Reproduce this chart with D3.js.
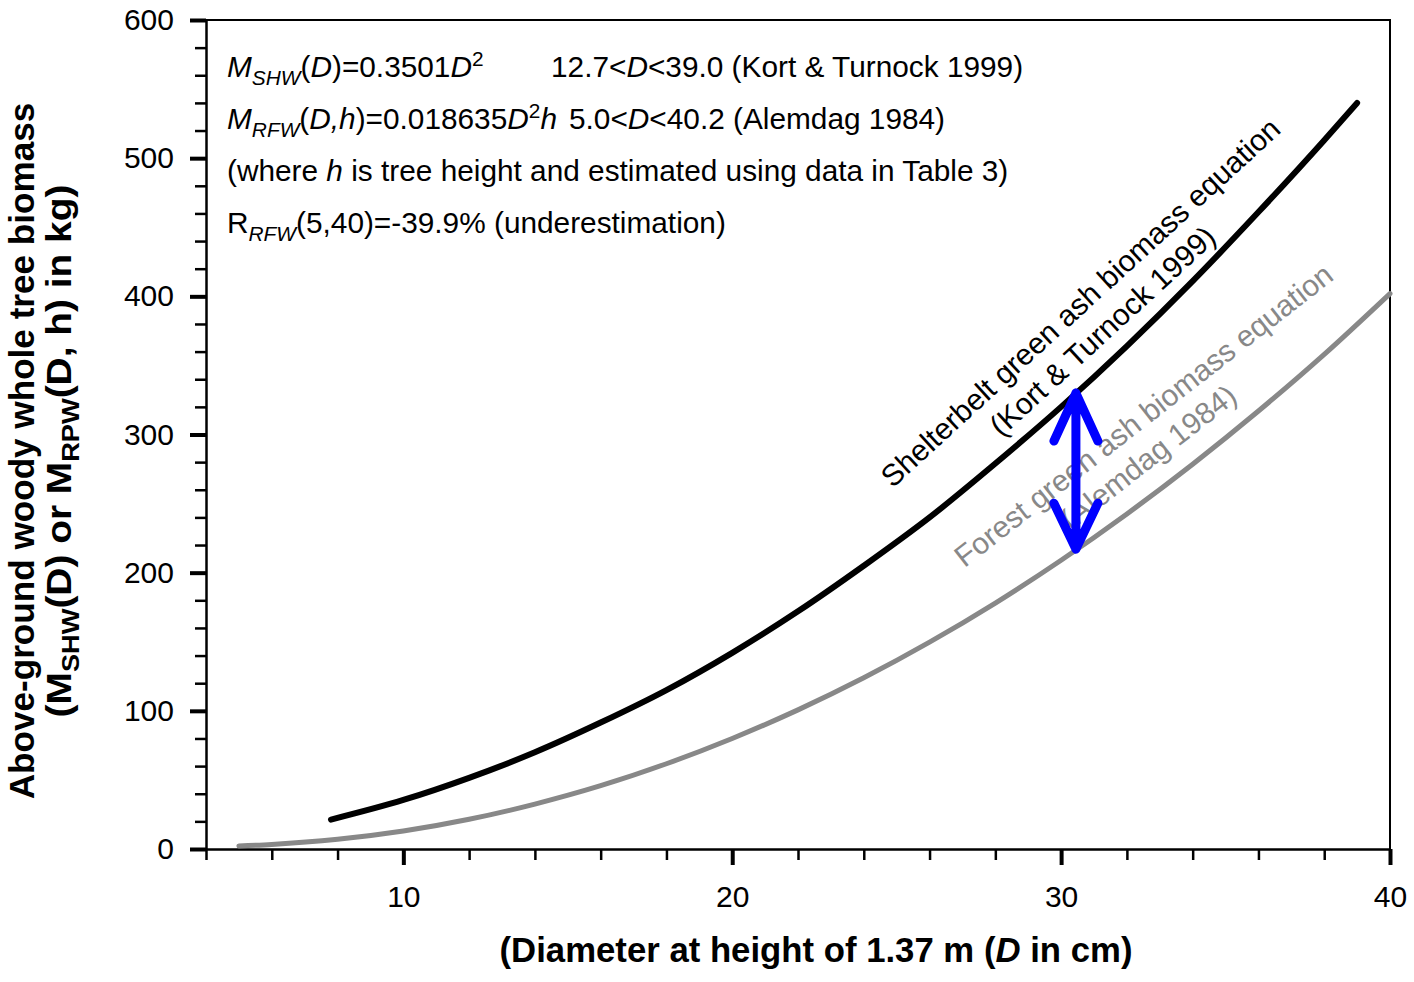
<!DOCTYPE html>
<html>
<head>
<meta charset="utf-8">
<script src="https://cdn.jsdelivr.net/npm/d3@7"></script>
<style>
  body { margin: 0; background: #fff; }
  text { font-family: "Liberation Sans", Arial, sans-serif; }
  .title { font-family: "Liberation Sans Narrow", "Arial Narrow", "Liberation Sans", Arial, sans-serif; font-weight: bold; }
</style>
</head>
<body>
<svg width="1414" height="982"></svg>
<script>
// shelterbelt equation (Kort & Turnock 1999)
const shwD = [7.8, 10, 12, 14, 16, 18, 20, 22, 24, 26, 28, 30, 32, 34, 36, 38, 39];
const shwM = [21.3, 35.5, 51.5, 70, 91.5, 115, 142, 172, 205, 240, 279, 320, 364, 411, 461, 513, 540];

// forest equation (Alemdag 1984)
const rfwD = [5, 6, 8, 10, 12, 14, 16, 18, 20, 22, 24, 26, 28, 30, 32, 34, 36, 38, 40];
const rfwM = [2.2, 3.3, 7, 13, 21.5, 32.5, 45.8, 61.7, 80, 100.7, 123.9, 149.7, 178, 209, 242.5, 278.5, 317, 358, 402];

const xMajor = [10, 20, 30, 40];
const xMinor = [4, 6, 8, 12, 14, 16, 18, 22, 24, 26, 28, 32, 34, 36, 38];
const yMajor = [0, 100, 200, 300, 400, 500, 600];
const yMinor = d3.range(0, 601, 20).filter(v => v % 100 !== 0);

// difference arrow at D = 30.45
const arrowD = 30.45, arrowTop = 330, arrowBottom = 217;

const shwLabel = ["Shelterbelt green ash biomass equation", "(Kort & Turnock 1999)"];
const rfwLabel = ["Forest green ash biomass equation", "(Alemdag 1984)"];

// segments: [text, style] style: "" normal, "i" italic, "sub"/"isub" subscript, "sup" superscript
const notes = [
  [[["M", "i"], ["SHW", "isub"], ["(", ""], ["D", "i"], [")=0.3501", ""], ["D", "i"], ["2", "sup"]],
   [["12.7<", ""], ["D", "i"], ["<39.0 (Kort & Turnock 1999)", ""]]],
  [[["M", "i"], ["RFW", "isub"], ["(", ""], ["D,h", "i"], [")=0.018635", ""], ["D", "i"], ["2", "sup"], ["h", "i"]],
   [["5.0<", ""], ["D", "i"], ["<40.2 (Alemdag 1984)", ""]]],
  [[["(where ", ""], ["h", "i"], [" is tree height and estimated using data in Table 3)", ""]]],
  [[["R", ""], ["RFW", "isub"], ["(5,40)=-39.9% (underestimation)", ""]]]
];

const svg = d3.select("svg");
const x = d3.scaleLinear().domain([4, 40]).range([206, 1390]);
const y = d3.scaleLinear().domain([0, 600]).range([849, 20]);

// top and right frame
svg.append("path")
  .attr("d", `M${x(4)},${y(600)}H${x(40)}V${y(0)}`)
  .attr("fill", "none").attr("stroke", "#000").attr("stroke-width", 2);

// minor ticks
svg.append("g")
  .attr("transform", `translate(${x(4)},0)`)
  .call(d3.axisLeft(y).tickValues(yMinor).tickSize(11).tickFormat(""))
  .call(g => g.select(".domain").remove())
  .selectAll("line").attr("stroke-width", 2.5);
svg.append("g")
  .attr("transform", `translate(0,${y(0)})`)
  .call(d3.axisBottom(x).tickValues(xMinor).tickSize(11).tickFormat(""))
  .call(g => g.select(".domain").remove())
  .selectAll("line").attr("stroke-width", 2.5);

// major ticks + labels
const yAxis = svg.append("g")
  .attr("transform", `translate(${x(4)},0)`)
  .call(d3.axisLeft(y).tickValues(yMajor).tickSize(16).tickSizeOuter(0).tickPadding(16));
const xAxis = svg.append("g")
  .attr("transform", `translate(0,${y(0)})`)
  .call(d3.axisBottom(x).tickValues(xMajor).tickSize(16).tickSizeOuter(0).tickPadding(21));
[yAxis, xAxis].forEach(g => {
  g.select(".domain").attr("stroke-width", 2.5);
  g.selectAll("line").attr("stroke-width", 4);
  g.selectAll("text").attr("font-size", 30).attr("fill", "#000")
    .style("font-family", '"Liberation Sans", Arial, sans-serif');
});

// curves
const line = d3.line().x(d => x(d[0])).y(d => y(d[1])).curve(d3.curveMonotoneX);
svg.append("path")
  .datum(rfwD.map((d, i) => [d, rfwM[i]]))
  .attr("d", line)
  .attr("fill", "none").attr("stroke", "#888").attr("stroke-width", 5).attr("stroke-linecap", "round");
svg.append("path")
  .datum(shwD.map((d, i) => [d, shwM[i]]))
  .attr("d", line)
  .attr("fill", "none").attr("stroke", "#000").attr("stroke-width", 6).attr("stroke-linecap", "round");

// curve labels, rotated along the curve
function curveLabel(lines, d, m, angle, color, shift2) {
  const g = svg.append("g")
    .attr("transform", `translate(${x(d)},${y(m)}) rotate(${angle})`);
  g.selectAll("text").data(lines).enter().append("text")
    .attr("x", (t, i) => i * shift2)
    .attr("y", (t, i) => i * 36)
    .attr("text-anchor", "middle")
    .attr("font-size", 30)
    .attr("fill", color)
    .text(t => t);
}
curveLabel(rfwLabel, 32.7, 308, -38, "#888", -22);
curveLabel(shwLabel, 30.8, 390, -42.5, "#000", -3);

// blue double arrow
const ax = x(arrowD), ay1 = y(arrowTop), ay2 = y(arrowBottom);
svg.append("path")
  .attr("d", `M${ax},${ay1}V${ay2}M${ax - 22},${ay1 + 48}L${ax},${ay1}L${ax + 22},${ay1 + 48}` +
             `M${ax - 22},${ay2 - 46}L${ax},${ay2}L${ax + 22},${ay2 - 46}`)
  .attr("fill", "none").attr("stroke", "#0000ff").attr("stroke-width", 9)
  .attr("stroke-linecap", "round").attr("stroke-linejoin", "round");

// equations in top-left
function richText(sel, segs, base) {
  let shift = 0;
  segs.forEach(([t, st]) => {
    const target = st.includes("sub") ? 8 : st === "sup" ? -11 : 0;
    const ts = sel.append("tspan").text(t).attr("dy", target - shift);
    shift = target;
    if (st.includes("i")) ts.attr("font-style", "italic");
    if (st.includes("sub") || st === "sup") ts.attr("font-size", base * 0.7);
  });
}
const noteY = [77, 129, 181, 233];
const secondX = [551, 569];
notes.forEach((parts, i) => {
  parts.forEach((segs, j) => {
    const t = svg.append("text")
      .attr("x", j === 0 ? 227 : secondX[i])
      .attr("y", noteY[i])
      .attr("font-size", 29.8);
    richText(t, segs, 29.8);
  });
});

// axis titles, squeezed horizontally to a narrow face
function fitWidth(g, width) {
  const w = g.node().getBBox().width;
  g.attr("transform", g.attr("transform") + ` scale(${width / w},1)`);
}
const xg = svg.append("g").attr("transform", "translate(816,962)");
const xt = xg.append("text").attr("class", "title")
  .attr("text-anchor", "middle").attr("font-size", 35);
xt.append("tspan").text("(Diameter at height of 1.37 m (");
xt.append("tspan").text("D").attr("font-style", "italic");
xt.append("tspan").text(" in cm)");
fitWidth(xg, 633);

const yt = svg.append("g").attr("transform", "translate(0,451) rotate(-90)");
const yg1 = yt.append("g").attr("transform", "translate(0,34)");
yg1.append("text").attr("class", "title")
  .attr("text-anchor", "middle").attr("font-size", 35)
  .text("Above-ground woody whole tree biomass");
fitWidth(yg1, 697);
const yg2 = yt.append("g").attr("transform", "translate(0,71)");
const yt2 = yg2.append("text").attr("class", "title")
  .attr("text-anchor", "middle").attr("font-size", 35);
richText(yt2, [["(M", ""], ["SHW", "sub"], ["(D) or M", ""], ["RPW", "sub"], ["(D, h) in kg)", ""]], 35);
fitWidth(yg2, 533);
</script>
</body>
</html>
